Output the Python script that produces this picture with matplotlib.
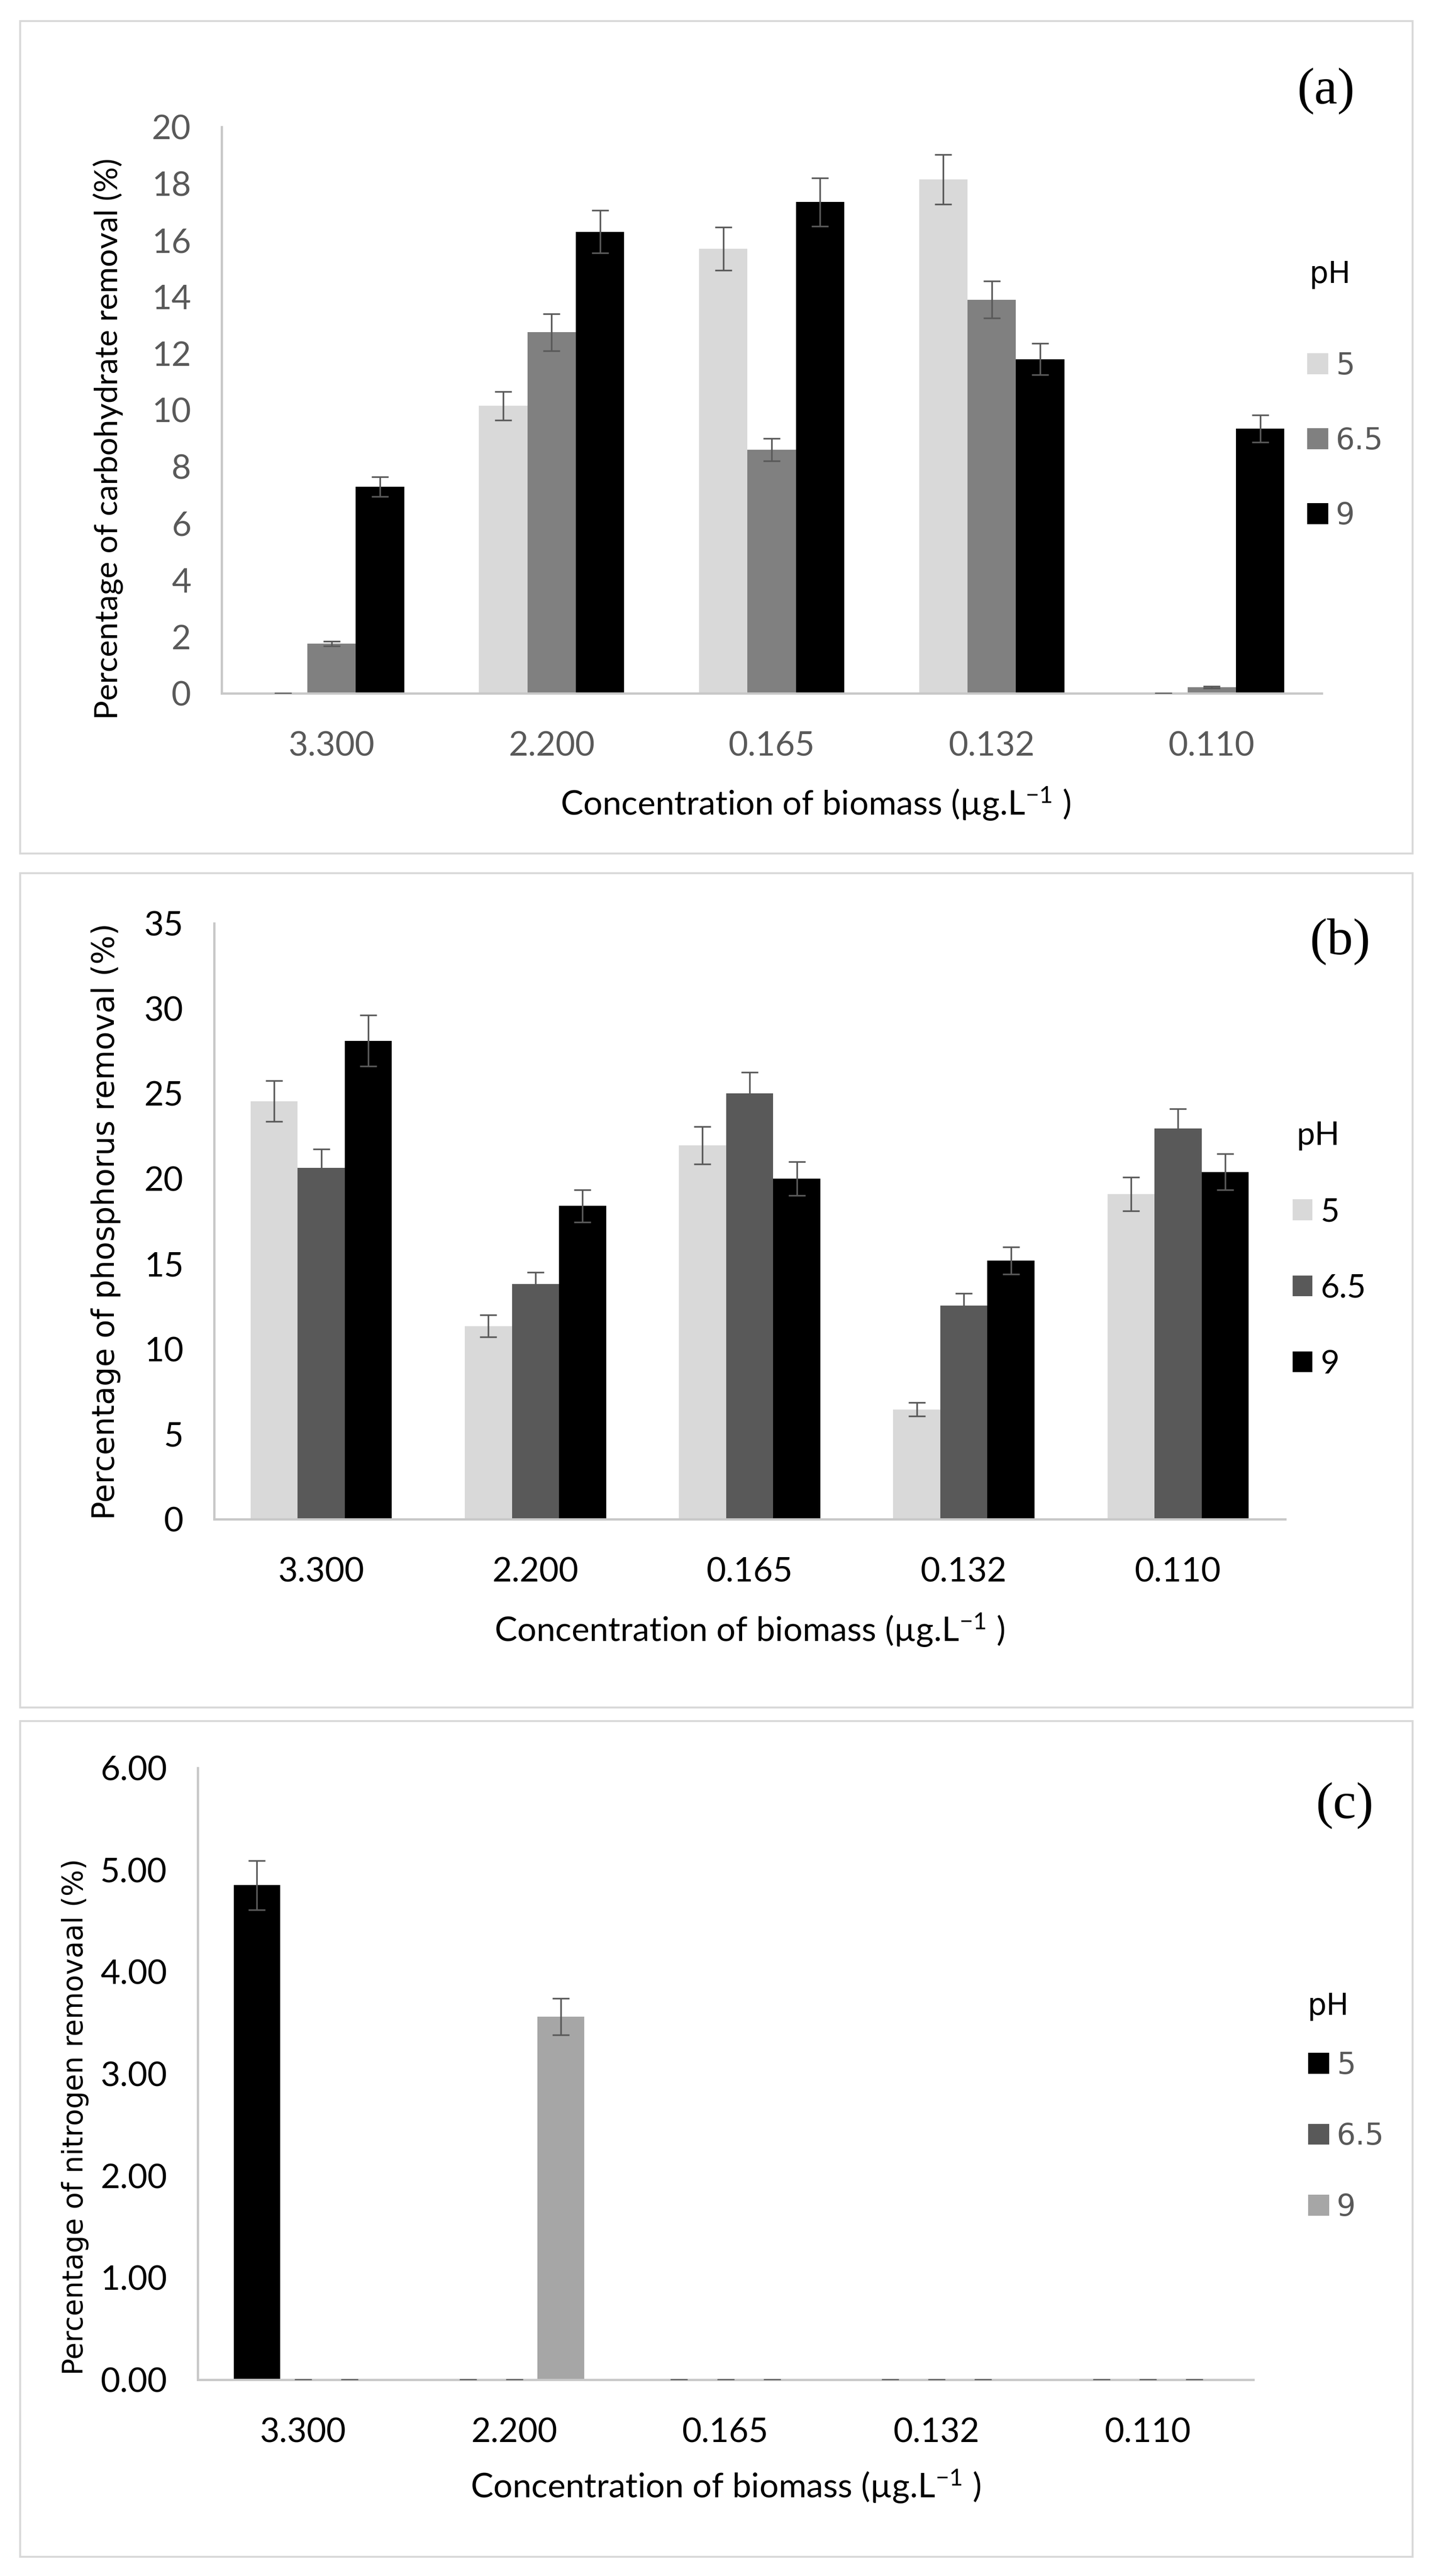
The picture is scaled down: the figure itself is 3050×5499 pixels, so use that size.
import matplotlib
matplotlib.use('Agg')
import matplotlib.pyplot as plt
from matplotlib.patches import Rectangle
from matplotlib.ticker import FormatStrFormatter
import numpy as np

concentrations = ['3.300', '2.200', '0.165', '0.132', '0.110']
ph_levels = ['5', '6.5', '9']

# (a) carbohydrate removal
carb_mean = {
    '5':   [0.0, 10.15, 15.7, 18.15, 0.0],
    '6.5': [1.75, 12.75, 8.6, 13.9, 0.22],
    '9':   [7.3, 16.3, 17.35, 11.8, 9.35],
}
carb_err = {
    '5':   [0.0, 0.5, 0.76, 0.88, 0.0],
    '6.5': [0.08, 0.65, 0.4, 0.65, 0.03],
    '9':   [0.35, 0.75, 0.85, 0.55, 0.48],
}

# (b) phosphorus removal
phos_mean = {
    '5':   [24.55, 11.35, 21.95, 6.45, 19.1],
    '6.5': [20.65, 13.8, 25.0, 12.55, 22.95],
    '9':   [28.1, 18.4, 20.0, 15.2, 20.4],
}
phos_err = {
    '5':   [1.2, 0.65, 1.1, 0.4, 1.0],
    '6.5': [1.1, 0.7, 1.25, 0.7, 1.15],
    '9':   [1.5, 0.95, 1.0, 0.8, 1.07],
}

# (c) nitrogen removal
nitr_mean = {
    '5':   [4.85, 0.0, 0.0, 0.0, 0.0],
    '6.5': [0.0, 0.0, 0.0, 0.0, 0.0],
    '9':   [0.0, 3.56, 0.0, 0.0, 0.0],
}
nitr_err = {
    '5':   [0.24, 0.0, 0.0, 0.0, 0.0],
    '6.5': [0.0, 0.0, 0.0, 0.0, 0.0],
    '9':   [0.0, 0.18, 0.0, 0.0, 0.0],
}

plt.rcParams['mathtext.default'] = 'regular'

W, H = 3050, 5499
fig = plt.figure(figsize=(W / 100, H / 100), dpi=100)
fig.patch.set_facecolor('white')

AX_GREY = '#C8C8C8'
ERR_GREY = '#595959'
CALIBRI = 'Lato'
VERDANA = 'DejaVu Sans'


def px_rect(left, top, right, bottom):
    return [left / W, 1 - bottom / H, (right - left) / W, (bottom - top) / H]


def fx(x):
    return x / W


def fy(y):
    return 1 - y / H


def draw_panel(rect, means, errs, colors, ylim, yticks, yfmt, ylabel, ylab_font,
               ylab_size, ylab_pos, tick_color, xlab_pos, tag, tag_pos,
               leg_font, leg_size, leg_color, leg_x, leg_y, ph_pos, leg_spacing,
               handle):
    ax = fig.add_axes(px_rect(*rect))
    x = np.arange(len(concentrations))
    width = 0.22
    for i, ph in enumerate(ph_levels):
        ax.bar(x + (i - 1) * width, means[ph], width, color=colors[ph], label=ph,
               yerr=errs[ph], zorder=2,
               error_kw=dict(ecolor=ERR_GREY, elinewidth=2.5, capsize=13,
                             capthick=2.5, zorder=3))
    ax.set_xlim(-0.5, len(concentrations) - 0.5)
    ax.set_ylim(*ylim)
    ax.set_yticks(yticks)
    if yfmt:
        ax.yaxis.set_major_formatter(FormatStrFormatter(yfmt))
    ax.set_xticks(x)
    ax.set_xticklabels(concentrations)
    for s in ['top', 'right']:
        ax.spines[s].set_visible(False)
    for s in ['left', 'bottom']:
        ax.spines[s].set_color(AX_GREY)
        ax.spines[s].set_linewidth(3.5)
    ax.tick_params(axis='both', length=0, labelsize=52, colors=tick_color)
    ax.tick_params(axis='y', pad=47)
    ax.tick_params(axis='x', pad=58)
    for lab in ax.get_xticklabels() + ax.get_yticklabels():
        lab.set_fontfamily(CALIBRI)

    ax.set_ylabel(ylabel, fontsize=ylab_size, family=ylab_font, color='black')
    ax.yaxis.set_label_coords(*ylab_pos)
    ax.yaxis.label.set_va('center')
    ax.set_xlabel('Concentration of biomass (µg.L$^{-1}$ )', fontsize=52,
                  family=CALIBRI, color='black')
    ax.xaxis.set_label_coords(*xlab_pos)
    ax.xaxis.label.set_va('center')

    fig.text(fx(tag_pos[0]), fy(tag_pos[1]), tag, fontsize=80,
             family='Liberation Serif', ha='center', va='center')

    fig.text(fx(ph_pos[0]), fy(ph_pos[1]), 'pH', fontsize=leg_size,
             family=leg_font, ha='left', va='center', color='black')
    leg = ax.legend(loc='upper left', bbox_to_anchor=(fx(leg_x), fy(leg_y)),
                    bbox_transform=fig.transFigure, frameon=False,
                    prop={'family': leg_font, 'size': leg_size},
                    handlelength=handle, handleheight=handle, handletextpad=0.25,
                    labelspacing=leg_spacing, borderpad=0, borderaxespad=0)
    for t in leg.get_texts():
        t.set_color(leg_color)
    return ax


# panel borders
for top, bottom in [(45, 1822), (1864, 3645), (3674, 5458)]:
    fig.patches.append(Rectangle((fx(43), fy(bottom)), fx(3015) - fx(43),
                                 fy(top) - fy(bottom), transform=fig.transFigure,
                                 fill=False, edgecolor='#D9D9D9', linewidth=3))

draw_panel(rect=(473, 271, 2821, 1480), means=carb_mean, errs=carb_err,
           colors={'5': '#D9D9D9', '6.5': '#808080', '9': '#000000'},
           ylim=(0, 20), yticks=np.arange(0, 21, 2), yfmt=None,
           ylabel='Percentage of carbohydrate removal (%)', ylab_font=CALIBRI,
           ylab_size=49, ylab_pos=(-0.103, 0.449), tick_color='#595959',
           xlab_pos=(0.54, -0.195), tag='(a)', tag_pos=(2830, 195),
           leg_font=VERDANA, leg_size=46, leg_color='#595959',
           leg_x=2790, leg_y=750, ph_pos=(2794, 586), leg_spacing=1.53,
           handle=0.7)

draw_panel(rect=(457, 1971, 2743, 3243), means=phos_mean, errs=phos_err,
           colors={'5': '#D9D9D9', '6.5': '#595959', '9': '#000000'},
           ylim=(0, 35), yticks=np.arange(0, 36, 5), yfmt=None,
           ylabel='Percentage of phosphorus removal (%)', ylab_font=VERDANA,
           ylab_size=47, ylab_pos=(-0.101, 0.5), tick_color='black',
           xlab_pos=(0.5, -0.186), tag='(b)', tag_pos=(2860, 2011),
           leg_font=CALIBRI, leg_size=50, leg_color='black',
           leg_x=2759, leg_y=2556, ph_pos=(2767, 2424), leg_spacing=1.43,
           handle=0.6)

draw_panel(rect=(422, 3774, 2675, 5080), means=nitr_mean, errs=nitr_err,
           colors={'5': '#000000', '6.5': '#595959', '9': '#A6A6A6'},
           ylim=(0, 6), yticks=np.arange(0, 7, 1), yfmt='%.2f',
           ylabel='Percentage of nitrogen removaal (%)', ylab_font=VERDANA,
           ylab_size=43, ylab_pos=(-0.116, 0.43), tick_color='black',
           xlab_pos=(0.5, -0.174), tag='(c)', tag_pos=(2870, 3855),
           leg_font=VERDANA, leg_size=46, leg_color='#595959',
           leg_x=2792, leg_y=4378, ph_pos=(2790, 4283), leg_spacing=1.4,
           handle=0.7)

plt.savefig('out.png', dpi=100, facecolor='white')
plt.close()
